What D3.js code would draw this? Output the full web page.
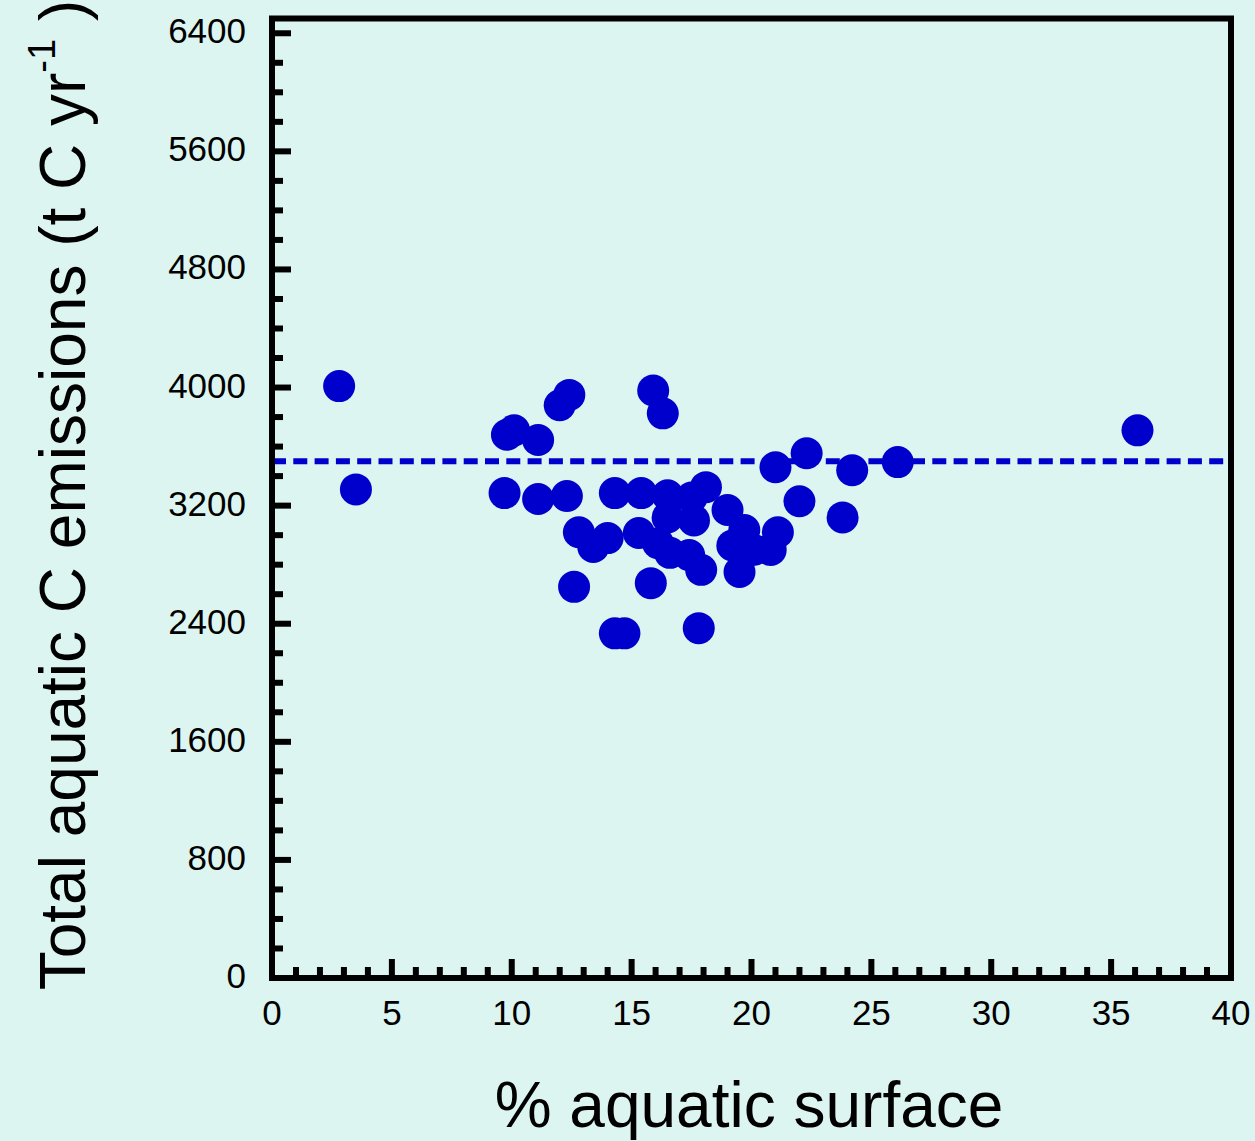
<!DOCTYPE html>
<html>
<head>
<meta charset="utf-8">
<script src="https://cdn.jsdelivr.net/npm/d3@7"></script>
<style>
  body { margin: 0; background: #ddf5f1; }
  svg { display: block; }
  text { font-family: "Liberation Sans", Arial, sans-serif; fill: #000; }
</style>
</head>
<body>
<div id="chart"></div>
<script>
// % aquatic surface
const pctSurface = [2.8, 3.5, 9.7, 9.8, 10.1, 11.1, 11.1, 12.0, 12.4, 12.3, 12.8, 13.4, 14.0, 12.6,
  14.3, 14.7, 14.3, 15.4, 15.3, 15.8, 15.9, 16.3, 16.5, 16.5, 16.1, 16.6, 17.4, 17.6, 18.1, 17.5,
  17.9, 17.8, 19.0, 19.2, 19.7, 20.1, 19.5, 20.8, 21.1, 21.0, 22.3, 22.0, 23.8, 24.2, 26.1, 36.1];
// total aquatic C emissions (t C / yr)
const emissions = [4010, 3310, 3285, 3680, 3710, 3645, 3245, 3880, 3950, 3265, 3020, 2920, 2980, 2650,
  2335, 2335, 3285, 3285, 3015, 2675, 3980, 3825, 3270, 3120, 2945, 2880, 2865, 3100, 3325, 3255,
  2765, 2370, 3170, 2930, 3035, 2900, 2750, 2900, 3020, 3460, 3555, 3230, 3120, 3440, 3495, 3710];
const meanLine = 3500;

const xTicks = [0, 5, 10, 15, 20, 25, 30, 35, 40];
const yTicks = [0, 800, 1600, 2400, 3200, 4000, 4800, 5600, 6400];

const W = 1255, H = 1141;
const plot = { left: 272, right: 1231, top: 18.5, bottom: 978 };

const svg = d3.select("#chart").append("svg")
  .attr("width", W)
  .attr("height", H);

svg.append("rect").attr("width", W).attr("height", H).attr("fill", "#ddf5f1");

const x = d3.scaleLinear().domain([0, 40]).range([plot.left, plot.right]);
const y = d3.scaleLinear().domain([0, 6500]).range([plot.bottom, plot.top]);

// minor + major ticks, drawn inward
const xMinor = d3.range(0, 41, 1);
svg.append("g").selectAll("line")
  .data(xMinor)
  .enter().append("line")
  .attr("x1", d => x(d)).attr("x2", d => x(d))
  .attr("y1", plot.bottom)
  .attr("y2", d => plot.bottom - (d % 5 === 0 ? 19 : 11))
  .attr("stroke", "#000").attr("stroke-width", 6);

const yMinor = d3.range(0, 6401, 200);
svg.append("g").selectAll("line")
  .data(yMinor)
  .enter().append("line")
  .attr("y1", d => y(d)).attr("y2", d => y(d))
  .attr("x1", plot.left)
  .attr("x2", d => plot.left + (d % 800 === 0 ? 19 : 11))
  .attr("stroke", "#000").attr("stroke-width", 6);

// tick labels
svg.append("g").selectAll("text")
  .data(xTicks)
  .enter().append("text")
  .attr("x", d => x(d))
  .attr("y", 1025)
  .attr("text-anchor", "middle")
  .style("font-size", "35px")
  .text(d => d);

svg.append("g").selectAll("text")
  .data(yTicks)
  .enter().append("text")
  .attr("x", 246)
  .attr("y", d => y(d) + 10)
  .attr("text-anchor", "end")
  .style("font-size", "35px")
  .text(d => d);

// dashed reference line
svg.append("line")
  .attr("x1", plot.left).attr("x2", plot.right)
  .attr("y1", y(meanLine)).attr("y2", y(meanLine))
  .attr("stroke", "#0000cc")
  .attr("stroke-width", 6)
  .attr("stroke-dasharray", "14,7.3");

// points
svg.append("g").selectAll("circle")
  .data(pctSurface.map((v, i) => ({ x: v, y: emissions[i] })))
  .enter().append("circle")
  .attr("cx", d => x(d.x))
  .attr("cy", d => y(d.y))
  .attr("r", 16)
  .attr("fill", "#0000cc");

// frame
svg.append("rect")
  .attr("x", plot.left).attr("y", plot.top)
  .attr("width", plot.right - plot.left)
  .attr("height", plot.bottom - plot.top)
  .attr("fill", "none")
  .attr("stroke", "#000")
  .attr("stroke-width", 6);

// axis titles
svg.append("text")
  .attr("x", 749)
  .attr("y", 1127)
  .attr("text-anchor", "middle")
  .style("font-size", "64px")
  .text("% aquatic surface");

const yTitle = svg.append("text")
  .attr("transform", "translate(85,495) rotate(-90)")
  .attr("text-anchor", "middle")
  .style("font-size", "64px");
yTitle.append("tspan").text("Total aquatic C emissions (t C yr");
yTitle.append("tspan").attr("dy", -30).style("font-size", "38px").text("-1");
yTitle.append("tspan").attr("dy", 30).text(" )");
</script>
</body>
</html>
